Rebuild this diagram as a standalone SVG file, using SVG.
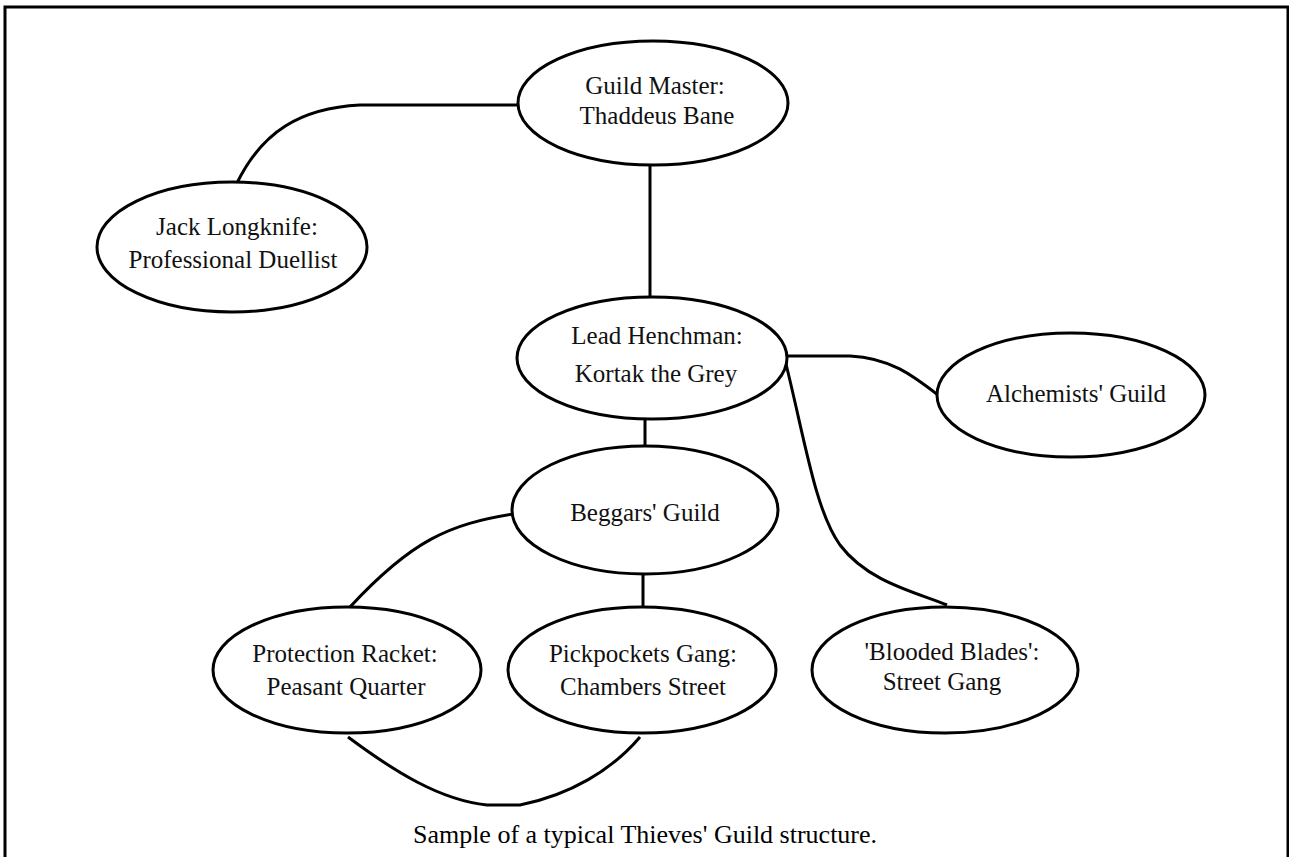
<svg xmlns="http://www.w3.org/2000/svg" width="1289" height="857" viewBox="0 0 1289 857">
<style>
.frame{fill:none;stroke:#000;stroke-width:3}
.node{fill:#fff;stroke:#000;stroke-width:3}
.conn{fill:none;stroke:#000;stroke-width:3;stroke-linejoin:round}
.lbl{font-family:"Liberation Serif","Times New Roman",serif;font-size:25px;fill:#111;text-anchor:middle}
.cap{font-family:"Liberation Serif","Times New Roman",serif;font-size:26px;fill:#000;text-anchor:middle}
</style>
<rect width="1289" height="857" fill="#fff"/>
<rect class="frame" x="5" y="7" width="1283" height="870"/>
<g id="connectors">
<path class="conn" d="M518,105 L360,105 C300,108 262,132 237,183"/>
<path class="conn" d="M650,165 L650,297"/>
<path class="conn" d="M645,418 L645,446"/>
<path class="conn" d="M787,356 L850,356 C890,358 912,375 938,395"/>
<path class="conn" d="M785,360 C805,440 815,510 840,545 C868,582 915,592 947,605"/>
<path class="conn" d="M513,514 C450,524 412,540 350,607"/>
<path class="conn" d="M643,575 L643,607"/>
<path class="conn" d="M348,737 C395,772 440,800 487,805 L520,805 C570,795 612,770 640,737"/>
</g>
<g id="guild-master">
<ellipse class="node" cx="653" cy="103" rx="135" ry="62"/>
<text class="lbl" x="655" y="94">Guild Master:</text>
<text class="lbl" x="657" y="124">Thaddeus Bane</text>
</g>
<g id="jack-longknife">
<ellipse class="node" cx="232" cy="247" rx="135" ry="65"/>
<text class="lbl" x="237" y="235">Jack Longknife:</text>
<text class="lbl" x="233" y="268">Professional Duellist</text>
</g>
<g id="lead-henchman">
<ellipse class="node" cx="652" cy="358" rx="135" ry="61"/>
<text class="lbl" x="657" y="344">Lead Henchman:</text>
<text class="lbl" x="656" y="382">Kortak the Grey</text>
</g>
<g id="alchemists-guild">
<ellipse class="node" cx="1071" cy="395" rx="134" ry="62"/>
<text class="lbl" x="1076" y="402">Alchemists' Guild</text>
</g>
<g id="beggars-guild">
<ellipse class="node" cx="645" cy="510" rx="133" ry="64"/>
<text class="lbl" x="645" y="521">Beggars' Guild</text>
</g>
<g id="protection-racket">
<ellipse class="node" cx="347" cy="670" rx="134" ry="63"/>
<text class="lbl" x="345" y="662">Protection Racket:</text>
<text class="lbl" x="346" y="695">Peasant Quarter</text>
</g>
<g id="pickpockets-gang">
<ellipse class="node" cx="642" cy="670" rx="134" ry="63"/>
<text class="lbl" x="643" y="662">Pickpockets Gang:</text>
<text class="lbl" x="643" y="695">Chambers Street</text>
</g>
<g id="blooded-blades">
<ellipse class="node" cx="945" cy="670" rx="133" ry="63"/>
<text class="lbl" x="952" y="660">'Blooded Blades':</text>
<text class="lbl" x="942" y="690">Street Gang</text>
</g>
<text class="cap" x="645" y="843">Sample of a typical Thieves' Guild structure.</text>
</svg>
